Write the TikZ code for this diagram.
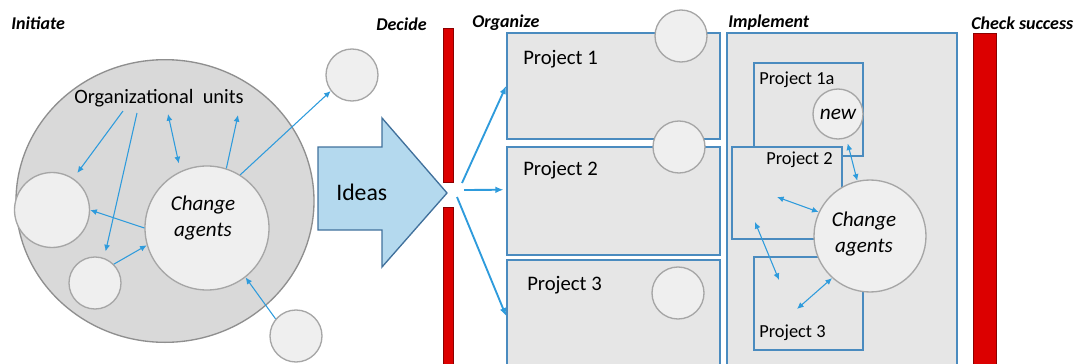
\documentclass[tikz,border=0pt]{standalone}
\usepackage{fontspec}
\setmainfont{Carlito}
\usetikzlibrary{arrows.meta,shapes.geometric,fit,calc}
\definecolor{orgfill}{HTML}{D9D9D9}
\definecolor{orgline}{HTML}{8F8F8F}
\definecolor{ballfill}{HTML}{EFEFEF}
\definecolor{ballline}{HTML}{A6A6A6}
\definecolor{boxfill}{HTML}{E6E6E6}
\definecolor{boxline}{HTML}{4A8BBF}
\definecolor{link}{HTML}{2E9BDC}
\definecolor{ideafill}{HTML}{B4D9EE}
\definecolor{idealine}{HTML}{41719C}
\definecolor{gate}{HTML}{DC0000}
\definecolor{gateline}{HTML}{8B0000}

\begin{document}
\begin{tikzpicture}[x=0.75pt,y=-0.75pt,
  ball/.style={circle, draw=ballline, fill=ballfill, line width=1pt, minimum size=#1*1.5pt, inner sep=0},
  pbox/.style={draw=boxline, fill=boxfill, line width=1.3pt, inner sep=0},
  gatebar/.style={draw=gateline, fill=gate, line width=0.6pt, inner sep=0},
  phase/.style={font=\fontsize{13.5}{16}\selectfont\bfseries\itshape, anchor=west, inner sep=0},
  lbl/.style={font=\fontsize{15.5}{18}\selectfont, anchor=west, inner sep=0},
  slbl/.style={font=\fontsize{13.8}{16}\selectfont, anchor=west, inner sep=0},
  agent/.style={font=\fontsize{15.8}{19.5}\selectfont\itshape, align=center, inner sep=0},
  tip/.tip={Latex[length=5pt,width=4.5pt]},
  flow/.style={draw=link, line width=0.8pt, -tip},
  flow2/.style={draw=link, line width=0.8pt, tip-tip},
  split/.style={draw=link, line width=1.4pt, -{Latex[length=6pt,width=5pt]}}
]
\useasboundingbox (0,0) rectangle (1078,364);

% phase headings
\node[phase] (hInit) at (11,23) {Initiate};
\node[phase] (hDec) at (376,24) {Decide};
\node[phase] (hOrg) at (472,23) {Organize};
\node[phase] (hImp) at (728,23) {Implement};
\node[phase] (hChk) at (971,23) {Check success};

% ---- Initiate: the organisation
\node[ellipse, draw=orgline, fill=orgfill, line width=1pt, minimum width=223.5pt,
      minimum height=212pt, inner sep=0] (org) at (165,201) {};
\node[font=\fontsize{15.3}{18}\selectfont, inner sep=0] (ou) at (159,98) {Organizational\ \ units};
\node[ball=37.5] (lc) at (52,210) {};
\node[ball=26] (sc) at (95,283) {};
\node[ball=62] (ca1) at (207,228) {};
\node[agent] (ca1t) at (203,218) {Change\\agents};
\node[ball=26] (oc) at (352,75) {};
\node[ball=26] (bc) at (296,336) {};

\coordinate (ou1) at (123,111);
\coordinate (ou2) at (137,113);
\coordinate (ou3) at (168,114);
\coordinate (ou4) at (238,115);

\draw[flow, shorten >=5pt] (ou1) -- (lc.56);
\draw[flow, shorten >=5pt] (ou2) -- (sc.70);
\draw[flow2, shorten >=6pt] (ou3) -- (ca1.115);
\draw[flow] (ca1.72) -- (ou4);
\draw[flow] (ca1.58) -- (oc.217);
\draw[flow] (ca1.180) -- (lc.0);
\draw[flow] (sc.45) -- (ca1.196);
\draw[flow] (bc.140) -- (ca1.308);

% ---- Ideas arrow
\draw[draw=idealine, fill=ideafill, line width=1pt, line join=miter]
  (318,147) -- (382,147) -- (382,118) -- (447,193) -- (382,267) -- (382,230) -- (318,230) -- cycle;
\node[font=\fontsize{17.8}{20}\selectfont, anchor=west, inner sep=0] (ideas) at (336,192) {Ideas};

% ---- Decide: the gate
\node[gatebar, fit={(443,28) (453,182)}] (gate1) {};
\node[gatebar, fit={(443,207) (453,366)}] (gate2) {};

% ---- Organize: projects
\node[pbox, fit={(507,33) (720,139)}] (p1) {};
\node[pbox, fit={(507,147) (720,255)}] (p2) {};
\node[pbox, fit={(507,260) (720,372)}] (p3) {};
\node[lbl] (p1t) at (523,59) {Project 1};
\node[lbl] (p2t) at (523,170) {Project 2};
\node[lbl] (p3t) at (527,285) {Project 3};
\node[ball=26] (pc1) at (681,36) {};
\node[ball=26] (pc2) at (679,147) {};
\node[ball=26] (pc3) at (678,293) {};

\coordinate (s1) at (462,183);
\coordinate (s2) at (464,190);
\coordinate (s3) at (457,197);
\draw[split] (s1) -- (p1.west);
\draw[split, shorten >=2pt] (s2) -- (p2.174);
\draw[split] (s3) -- (p3.west);

% ---- Implement
\node[pbox, fit={(727,33) (957,372)}] (imp) {};
\node[pbox, fit={(754,63) (863,156)}] (q1) {};
\node[ball=25] (nw) at (838,114) {};
\node[font=\fontsize{16}{19}\selectfont\itshape, inner sep=0] (nwt) at (838,114) {new};
\node[pbox, fit={(732,147) (842,239)}] (q2) {};
\node[pbox, fit={(754,257) (863,350)}] (q3) {};
\node[slbl] (q1t) at (759,80) {Project 1a};
\node[slbl] (q2t) at (766,160) {Project 2};
\node[slbl] (q3t) at (759,333) {Project 3};
\node[ball=56] (ca2) at (870,236) {};
\node[agent] (ca2t) at (864,234) {Change\\agents};

\coordinate (b0) at (777,197);
\coordinate (c0) at (755,222);
\coordinate (c1) at (779,280);
\coordinate (d0) at (797,309);
\draw[flow2, shorten <=4pt] (nw.289) -- (ca2.103);
\draw[flow2] (b0) -- (ca2.155);
\draw[flow2] (c0) -- (c1);
\draw[flow2] (d0) -- (ca2.228);

% ---- Check success
\node[gatebar, fit={(973,33) (996,372)}] (gate3) {};
\end{tikzpicture}
\end{document}
